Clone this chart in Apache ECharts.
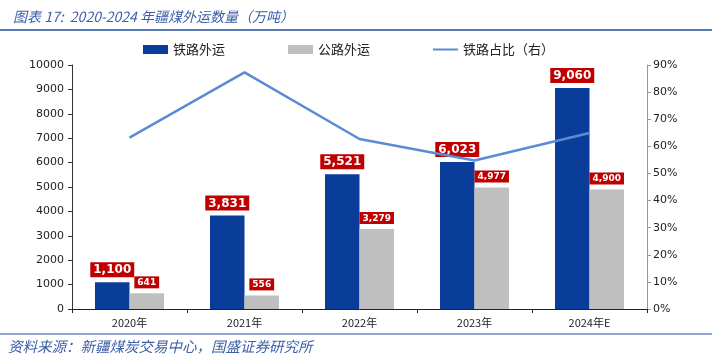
<!DOCTYPE html>
<html><head><meta charset="utf-8">
<script src="https://cdn.jsdelivr.net/npm/echarts@6/dist/echarts.min.js"></script>
<style>html,body{margin:0;padding:0;background:#fff}#c{width:712px;height:356px}</style>
</head><body><div id="c"></div>
<script>
const categories = ['2020年','2021年','2022年','2023年','2024年E'];
const railVolume = [1100, 3831, 5521, 6023, 9060];
const roadVolume = [641, 556, 3279, 4977, 4900];
const railShare = [63.2, 87.3, 62.7, 54.8, 64.9];
const leftTicks = {min:0, max:10000, interval:1000};
const rightTicks = {min:0, max:90, interval:10};

const font = '"DejaVu Sans","Noto Sans CJK SC",sans-serif';
const cjk = '"Noto Sans CJK SC","DejaVu Sans",sans-serif';
const fmt = v => v.toLocaleString('en-US');
const chart = echarts.init(document.getElementById('c'));
chart.setOption({
  animation:false,
  title:{text:'图表 17:  2020-2024 年疆煤外运数量（万吨）', left:8, top:5,
    textStyle:{fontFamily:cjk, fontStyle:'italic', fontWeight:'normal', fontSize:14, color:'#3b5ea8'}},
  graphic:[
    {type:'line', shape:{x1:0,y1:30,x2:712,y2:30}, style:{stroke:'#1f4e9c', lineWidth:1.5}},
    {type:'line', shape:{x1:0,y1:334,x2:712,y2:334}, style:{stroke:'#1f4e9c', lineWidth:1}},
    {type:'text', left:8, top:339, style:{text:'资料来源：新疆煤炭交易中心，国盛证券研究所', fontFamily:cjk, fontStyle:'italic', fontSize:14.5, fill:'#3b5ea8'}}
  ],
  legend:{left:138, top:38, itemWidth:25, itemHeight:9, itemGap:63,
    textStyle:{fontFamily:cjk, fontSize:13, color:'#222'},
    data:[{name:'铁路外运', icon:'rect'},{name:'公路外运', icon:'rect'},
          {name:'铁路占比（右）', icon:'path://M0,0 L25,0 L25,2 L0,2 Z'}]},
  grid:{left:72, right:65, top:65, bottom:47},
  xAxis:{type:'category', data:categories,
    axisLine:{lineStyle:{color:'#222'}},
    axisTick:{show:true, length:4, lineStyle:{color:'#222'}},
    axisLabel:{fontFamily:cjk, fontSize:11, color:'#222', margin:8}},
  yAxis:[
    {type:'value', min:leftTicks.min, max:leftTicks.max, interval:leftTicks.interval,
     splitLine:{show:false}, axisLine:{show:true, lineStyle:{color:'#333'}},
     axisTick:{show:true, length:4, lineStyle:{color:'#333'}},
     axisLabel:{fontFamily:font, fontSize:11, color:'#222', margin:8, formatter:v=>String(v)}},
    {type:'value', min:rightTicks.min, max:rightTicks.max, interval:rightTicks.interval,
     splitLine:{show:false}, axisLine:{show:true, lineStyle:{color:'#999'}},
     axisTick:{show:true, length:4, lineStyle:{color:'#999'}},
     axisLabel:{fontFamily:font, fontSize:11, color:'#222', margin:6, formatter:'{value}%'}}
  ],
  series:[
    {name:'铁路外运', type:'bar', data:railVolume, barGap:'0%', barCategoryGap:'40%',
     itemStyle:{color:'#0a3d99'},
     label:{show:true, position:'top', distance:5, formatter:p=>fmt(p.value),
       backgroundColor:'#c00000', color:'#fff', fontWeight:'bold', fontSize:12, fontFamily:font, padding:[2,3,1,3]}},
    {name:'公路外运', type:'bar', data:roadVolume,
     itemStyle:{color:'#bfbfbf'},
     label:{show:true, position:'top', distance:5, formatter:p=>fmt(p.value),
       backgroundColor:'#c00000', color:'#fff', fontWeight:'bold', fontSize:9, fontFamily:font, padding:[2,3,1,3]}},
    {name:'铁路占比（右）', type:'line', yAxisIndex:1, data:railShare, symbol:'none',
     lineStyle:{color:'#5b8bd4', width:2.5}, itemStyle:{color:'#5b8bd4'}, z:5}
  ]
});
</script></body></html>
